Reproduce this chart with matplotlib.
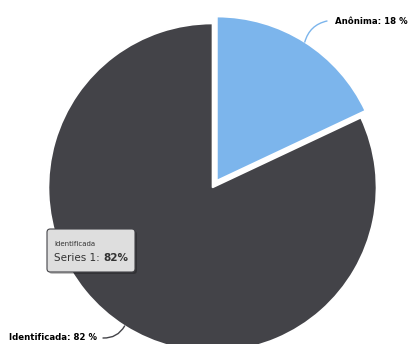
import matplotlib
matplotlib.use("Agg")
import matplotlib.pyplot as plt
from matplotlib.patches import FancyBboxPatch
import numpy as np

categories = ["Anônima", "Identificada"]
values = [18, 82]
colors = ["#7cb5ec", "#434348"]
series_name = "Series 1"
explode = [0.05, 0.0]

W, H = 410, 344
cx, cy, R = 212.5, 187.5, 164.0


def P(x, y):
    return ((x - cx) / R, (cy - y) / R)


fig = plt.figure(figsize=(W / 100, H / 100), dpi=100)
ax = fig.add_axes([0, 0, 1, 1])

wedges, _ = ax.pie(values, colors=colors, startangle=90, counterclock=False,
                   explode=explode, radius=1.0,
                   wedgeprops=dict(edgecolor="white", linewidth=1.2))
ax.set_xlim(-cx / R, (W - cx) / R)
ax.set_ylim(-(H - cy) / R, cy / R)
ax.set_aspect("equal", adjustable="datalim")
ax.axis("off")

# data labels with connectors
total = sum(values)
start = 0.0
label_cfg = [
    dict(end=(327, 21), text=(335, 21), ha="left", rad=0.3),
    dict(end=(103, 338), text=(97, 338), ha="right", rad=0.3),
]
for i, (cat, v) in enumerate(zip(categories, values)):
    mid = np.deg2rad((start + v / 2) / total * 360)
    start += v
    rr = 1.0 + explode[i]
    xy = (rr * np.sin(mid), rr * np.cos(mid))
    cfg = label_cfg[i]
    ax.annotate("", xy=xy, xytext=P(*cfg["end"]),
                arrowprops=dict(arrowstyle="-", color=colors[i], lw=1.0,
                                shrinkA=0, shrinkB=0,
                                connectionstyle=f"arc3,rad={cfg['rad']}"))
    ax.text(*P(*cfg["text"]), f"{cat}: {v} %", ha=cfg["ha"], va="center",
            fontsize=6.2, fontweight="bold", color="#000000",
            family="DejaVu Sans")

# tooltip
x0, y0 = P(47, 272)
x1, y1 = P(135, 229)
shadow = FancyBboxPatch((x0 + 0.012, y0 - 0.012), x1 - x0, y1 - y0,
                        boxstyle="round,pad=0,rounding_size=0.02",
                        facecolor="black", edgecolor="none", alpha=0.25, zorder=5)
ax.add_patch(shadow)
box = FancyBboxPatch((x0, y0), x1 - x0, y1 - y0,
                     boxstyle="round,pad=0,rounding_size=0.02",
                     facecolor="#dedede", edgecolor="#434348", linewidth=0.8, zorder=6)
ax.add_patch(box)
ax.text(*P(54, 244), categories[1], fontsize=5, color="#333333",
        ha="left", va="center", zorder=7)
t1 = ax.text(*P(54, 258), f"{series_name}: ", fontsize=7.5, color="#333333",
             ha="left", va="center", zorder=7)
ax.annotate(f"{values[1]}%", xy=(1, 0), xycoords=t1, fontsize=7.5,
            fontweight="bold", color="#333333", ha="left", va="bottom", zorder=7)

fig.savefig("out.png", dpi=100)
